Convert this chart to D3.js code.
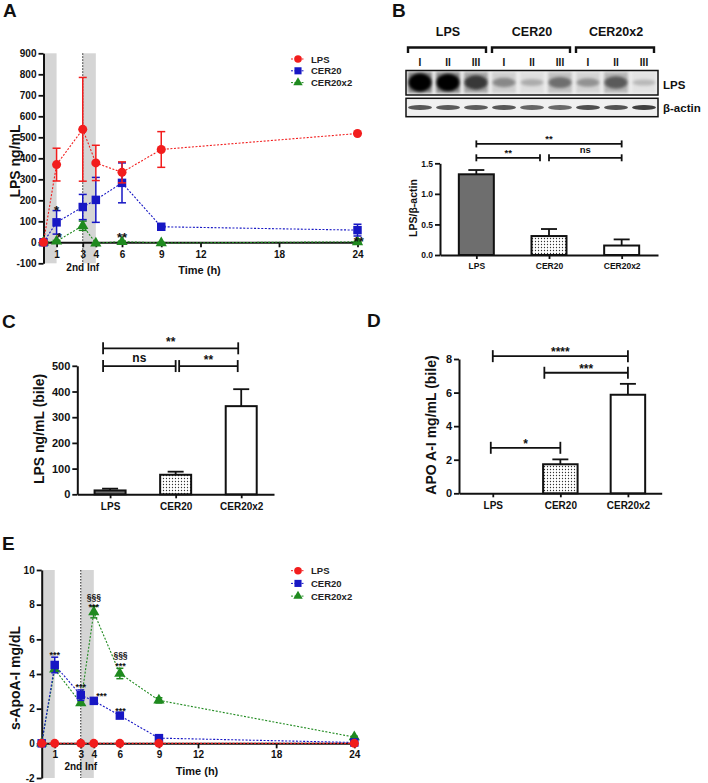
<!DOCTYPE html>
<html>
<head>
<meta charset="utf-8">
<script src="https://d3js.org/d3.v7.min.js"></script>
<style>
body { margin: 0; background: #fff; }
svg { display: block; }
</style>
</head>
<body>
<svg id="fig" width="708" height="783"></svg>
<script>
// ---- data ----
var hours = [0, 1, 3, 4, 6, 9, 24];
var timeTicks = [1, 3, 4, 6, 9, 12, 18, 24];
var groups = ["LPS", "CER20", "CER20x2"];

// A: plasma LPS ng/mL
var lpsA = [0, 370, 538, 378, 333, 442, 518];
var lpsAErr = [0, 78, 247, 84, 50, 85, 0];
var cer20A = [0, 95, 168, 202, 283, 74, 58];
var cer20AErr = [0, 56, 60, 107, 95, 5, 28];
var cer20x2A = [0, 5, 79, -4, 3, -3, 2];
var cer20x2AErr = [0, 4, 22, 2, 3, 2, 2];
var ticksA = [-100, 0, 100, 200, 300, 400, 500, 600, 700, 800, 900];

// E: s-ApoA-I mg/dL
var lpsE = [0, 0, 0, 0, 0, 0, 0];
var cer20E = [0, 4.52, 2.78, 2.45, 1.6, 0.3, 0.05];
var cer20EErr = [0, 0.45, 0.3, 0.1, 0.1, 0.05, 0.04];
var cer20x2E = [0, 4.27, 2.32, 7.57, 4.03, 2.48, 0.36];
var cer20x2EErr = [0, 0.1, 0.12, 0.33, 0.3, 0.15, 0.05];
var ticksE = [-2, 0, 2, 4, 6, 8, 10];

// B: western blot
var laneNames = ["I", "II", "III", "I", "II", "III", "I", "II", "III"];
var lpsBand = [1.0, 0.95, 0.72, 0.35, 0.18, 0.48, 0.3, 0.58, 0.12];
var actinBand = [0.62, 0.58, 0.58, 0.62, 0.5, 0.48, 0.68, 0.64, 0.78];
var ratioB = [1.32, 0.31, 0.155];
var ratioBErr = [0.07, 0.115, 0.1];
var ticksB = [0, 0.5, 1.0, 1.5];

// C: bile LPS ng/mL
var bileLps = [15, 76, 343];
var bileLpsErr = [7, 12, 66];
var ticksC = [0, 100, 200, 300, 400, 500];

// D: bile APO A-I mg/mL
var bileApo = [0, 1.73, 5.87];
var bileApoErr = [0, 0.29, 0.65];
var ticksD = [0, 2, 4, 6, 8];

// ---- drawing ----
var FONT = "'Liberation Sans', Arial, sans-serif";
var RED = "#f21d1d", BLUE = "#1717c4", GREEN = "#1f8a1f";
var barFill = ["#6e6e6e", "url(#dots)", "#ffffff"];

var svg = d3.select("#fig").style("font-family", FONT);
var defs = svg.append("defs");
var pat = defs.append("pattern").attr("id", "dots")
    .attr("width", 3).attr("height", 3).attr("patternUnits", "userSpaceOnUse");
pat.append("rect").attr("width", 3).attr("height", 3).attr("fill", "#fff");
pat.append("circle").attr("cx", 1.5).attr("cy", 1.5).attr("r", 0.65).attr("fill", "#333");
defs.append("filter").attr("id", "blur2").attr("x", "-50%").attr("y", "-50%").attr("width", "200%").attr("height", "200%")
    .append("feGaussianBlur").attr("stdDeviation", 1.6);
defs.append("filter").attr("id", "blur1").attr("x", "-50%").attr("y", "-50%").attr("width", "200%").attr("height", "200%")
    .append("feGaussianBlur").attr("stdDeviation", 0.7);

function styleAxis(a, fs) {
    a.attr("font-family", null).attr("font-size", null);
    a.select(".domain").attr("stroke", "#111").attr("stroke-width", 2);
    a.selectAll(".tick line").attr("stroke", "#111").attr("stroke-width", 1.8);
    a.selectAll(".tick text").attr("fill", "#111")
        .style("font-size", fs + "px").style("font-weight", "bold").style("font-family", FONT);
}

function label(g, x, y, txt, fs, anchor, rot) {
    var t = g.append("text").attr("x", x).attr("y", y).text(txt)
        .attr("font-size", fs).attr("font-weight", "bold").attr("fill", "#111")
        .attr("text-anchor", anchor || "middle");
    if (rot) t.attr("transform", "rotate(-90," + x + "," + y + ")");
    return t;
}

function timePanel(cfg) {
    var g = svg.append("g");
    var x = d3.scaleLinear().domain([0, 24]).range(cfg.xr);
    var y = d3.scaleLinear().domain(cfg.yd).range(cfg.yr);
    var top = y(cfg.yd[1]), bot = y(cfg.yd[0]);

    // infusion windows
    g.selectAll("rect.inf").data([[0, 1], [3, 4]]).join("rect")
        .attr("x", function (d) { return x(d[0]); })
        .attr("width", function (d) { return x(d[1]) - x(d[0]); })
        .attr("y", top).attr("height", bot - top).attr("fill", "#d5d5d5");
    g.append("line").attr("x1", x(3)).attr("x2", x(3)).attr("y1", top).attr("y2", bot)
        .attr("stroke", "#222").attr("stroke-width", 1).attr("stroke-dasharray", "1.5,1.5");

    var ya = g.append("g").attr("transform", "translate(" + x(0) + ",0)")
        .call(d3.axisLeft(y).tickValues(cfg.yTicks).tickSize(5).tickSizeOuter(0).tickPadding(2)
            .tickFormat(function (d) { return String(d); }));
    styleAxis(ya, 10);
    var xa = g.append("g").attr("transform", "translate(0," + y(0) + ")")
        .call(d3.axisBottom(x).tickValues(timeTicks).tickSize(5).tickSizeOuter(0).tickPadding(cfg.xPad));
    styleAxis(xa, 10);

    cfg.series.forEach(function (s) {
        var pts = hours.map(function (h, i) { return { h: h, v: s.vals[i], e: s.err ? s.err[i] : 0 }; });
        g.append("path").datum(pts).attr("fill", "none").attr("stroke", s.color)
            .attr("stroke-width", 1.1).attr("stroke-dasharray", "2,1.6")
            .attr("d", d3.line().x(function (d) { return x(d.h); }).y(function (d) { return y(d.v); }));
        var eb = g.append("g").attr("stroke", s.color).attr("stroke-width", 1.5);
        pts.filter(function (d) { return d.e > 0; }).forEach(function (d) {
            var cx = x(d.h), y1 = y(d.v + d.e), y2 = y(d.v - d.e), cw = cfg.cap;
            eb.append("line").attr("x1", cx).attr("x2", cx).attr("y1", y1).attr("y2", y2);
            eb.append("line").attr("x1", cx - cw).attr("x2", cx + cw).attr("y1", y1).attr("y2", y1);
            eb.append("line").attr("x1", cx - cw).attr("x2", cx + cw).attr("y1", y2).attr("y2", y2);
        });
        g.append("g").selectAll("path").data(pts).join("path")
            .attr("transform", function (d) { return "translate(" + x(d.h) + "," + y(d.v) + ")"; })
            .attr("d", d3.symbol(s.shape, s.size)).attr("fill", s.color);
    });

    // significance marks
    cfg.notes.forEach(function (n) {
        var star = n.s.indexOf("*") >= 0;
        label(g, x(n.t), y(n.v) + (star ? 0.57 : 0.32) * n.fs, n.s, n.fs);
    });

    // legend
    var lg = g.append("g");
    cfg.series.slice().reverse().forEach(function (s, i) {
        var ly = cfg.leg[1] + i * cfg.leg[2];
        lg.append("line").attr("x1", cfg.leg[0] - 7).attr("x2", cfg.leg[0] + 7).attr("y1", ly).attr("y2", ly)
            .attr("stroke", s.color).attr("stroke-width", 1).attr("stroke-dasharray", "2,1.5");
        lg.append("path").attr("transform", "translate(" + cfg.leg[0] + "," + ly + ")")
            .attr("d", d3.symbol(s.shape, s.size * 0.7)).attr("fill", s.color);
        lg.append("text").attr("x", cfg.leg[0] + 13).attr("y", ly + 3.5).text(s.name)
            .attr("font-size", 9.5).attr("font-weight", "bold").attr("fill", "#222");
    });

    label(g, x(3), y(0) + cfg.infDy, "2nd Inf", 10);
    label(g, x(12) - 1, y(0) + cfg.timeDy, "Time (h)", 11);
    label(g, 20, cfg.titleY, cfg.title, 14, "middle", true);
}

function barPanel(cfg) {
    var g = svg.append("g");
    var x = d3.scalePoint().domain(groups).range(cfg.xr).padding(0.5);
    var y = d3.scaleLinear().domain(cfg.yd).range(cfg.yr);

    var xa = g.append("g").attr("transform", "translate(0," + y(0) + ")")
        .call(d3.axisBottom(x).tickSize(4).tickSizeOuter(0).tickPadding(cfg.xPad));
    styleAxis(xa, cfg.fs);
    var ya = g.append("g").attr("transform", "translate(" + cfg.xr[0] + ",0)")
        .call(d3.axisLeft(y).tickValues(cfg.yTicks).tickSize(5).tickSizeOuter(0).tickPadding(2)
            .tickFormat(cfg.fmt));
    styleAxis(ya, cfg.yfs);

    var hw = cfg.bw / 2;
    groups.forEach(function (k, i) {
        var v = cfg.vals[i], e = cfg.err[i], cx = x(k);
        if (v <= 0) return;
        g.append("line").attr("x1", cx).attr("x2", cx).attr("y1", y(v)).attr("y2", y(v + e))
            .attr("stroke", "#111").attr("stroke-width", 1.8);
        g.append("line").attr("x1", cx - 8).attr("x2", cx + 8).attr("y1", y(v + e)).attr("y2", y(v + e))
            .attr("stroke", "#111").attr("stroke-width", 1.8);
        g.append("rect").attr("x", cx - hw).attr("width", cfg.bw)
            .attr("y", y(v)).attr("height", y(0) - y(v))
            .attr("fill", barFill[i]).attr("stroke", "#111").attr("stroke-width", 2);
    });

    cfg.sig.forEach(function (s) {
        var x1 = x(groups[s[0]]) + s[3], x2 = x(groups[s[1]]) + s[4], ly = y(s[2]);
        var sg = g.append("g").attr("stroke", "#111").attr("stroke-width", 1.8);
        sg.append("line").attr("x1", x1).attr("x2", x2).attr("y1", ly).attr("y2", ly);
        sg.append("line").attr("x1", x1).attr("x2", x1).attr("y1", ly - cfg.tk).attr("y2", ly + cfg.tk);
        sg.append("line").attr("x1", x2).attr("x2", x2).attr("y1", ly - cfg.tk).attr("y2", ly + cfg.tk);
        var star = s[5].indexOf("*") >= 0;
        label(g, (x1 + x2) / 2, ly - (star ? cfg.lift : cfg.lift + 2.5), s[5], cfg.sfs);
    });

    label(g, cfg.titleX, cfg.titleY, cfg.title, cfg.tfs, "middle", true);
}

// panel letters
label(svg, 3, 17, "A", 19, "start");
label(svg, 392, 17, "B", 19, "start");
label(svg, 2, 328, "C", 19, "start");
label(svg, 367, 327, "D", 19, "start");
label(svg, 2, 550, "E", 19, "start");

// A
timePanel({
    xr: [43.5, 357.5], yd: [-100, 900], yr: [263.3, 53.3], yTicks: ticksA, cap: 4, xPad: 4,
    series: [
        { name: "CER20x2", vals: cer20x2A, err: cer20x2AErr, color: GREEN, shape: d3.symbolTriangle, size: 55 },
        { name: "CER20", vals: cer20A, err: cer20AErr, color: BLUE, shape: d3.symbolSquare, size: 72 },
        { name: "LPS", vals: lpsA, err: lpsAErr, color: RED, shape: d3.symbolCircle, size: 64 }
    ],
    notes: [
        { t: 1, v: 165, s: "*", fs: 13 }, { t: 1.21, v: 38, s: "*", fs: 13 },
        { t: 6, v: 38, s: "**", fs: 13 }, { t: 24.1, v: 19, s: "**", fs: 13 }
    ],
    leg: [298, 59, 11.8], infDy: 28.5, timeDy: 32, titleY: 161, title: "LPS ng/mL"
});

// E
timePanel({
    xr: [41.7, 354.3], yd: [-2, 10], yr: [778, 570], yTicks: ticksE, cap: 3.5, xPad: 2.5,
    series: [
        { name: "CER20x2", vals: cer20x2E, err: cer20x2EErr, color: GREEN, shape: d3.symbolTriangle, size: 55 },
        { name: "CER20", vals: cer20E, err: cer20EErr, color: BLUE, shape: d3.symbolSquare, size: 72 },
        { name: "LPS", vals: lpsE, err: null, color: RED, shape: d3.symbolCircle, size: 64 }
    ],
    notes: [
        { t: 1, v: 5.24, s: "***", fs: 9 }, { t: 3, v: 3.36, s: "***", fs: 9 },
        { t: 4.6, v: 2.88, s: "***", fs: 9 }, { t: 6.05, v: 2.01, s: "***", fs: 9 },
        { t: 4, v: 8.45, s: "§§§", fs: 8.5 }, { t: 4, v: 7.96, s: "***", fs: 9 },
        { t: 6.05, v: 5.08, s: "§§§", fs: 8.5 }, { t: 6.05, v: 4.6, s: "***", fs: 9 }
    ],
    leg: [298, 570.7, 12.7], infDy: 26.5, timeDy: 31.5, titleY: 678, title: "s-ApoA-I mg/dL"
});

// B blot
var blot = svg.append("g");
var lane = d3.scaleBand().domain(d3.range(9)).range([406, 658]);
[0, 1, 2].forEach(function (k) {
    var x1 = lane(k * 3) + 2, x2 = lane(k * 3 + 2) + lane.bandwidth() - 4;
    blot.append("path").attr("d", "M" + x1 + ",53V47.5H" + x2 + "V53")
        .attr("fill", "none").attr("stroke", "#111").attr("stroke-width", 2.4);
    label(blot, lane(k * 3 + 1) + lane.bandwidth() / 2, 36, groups[k], 12.5);
});
laneNames.forEach(function (n, i) {
    label(blot, lane(i) + lane.bandwidth() / 2, 66, n, 10);
});
defs.append("clipPath").attr("id", "clipL").append("rect").attr("x", 406).attr("y", 70.5).attr("width", 252).attr("height", 24.5);
defs.append("clipPath").attr("id", "clipA").append("rect").attr("x", 406).attr("y", 98.3).attr("width", 252).attr("height", 18.4);
blot.append("rect").attr("x", 406).attr("y", 70.5).attr("width", 252).attr("height", 24.5).attr("fill", "#eeeeee");
blot.append("rect").attr("x", 406).attr("y", 98.3).attr("width", 252).attr("height", 18.4).attr("fill", "#f0f0f0");
var bandL = blot.append("g").attr("clip-path", "url(#clipL)");
lpsBand.forEach(function (k, i) {
    var cx = lane(i) + lane.bandwidth() / 2;
    bandL.append("rect").attr("x", cx - 12).attr("width", 24).attr("y", 72).attr("height", 21)
        .attr("fill", d3.interpolateGreys(0.15 + 0.5 * k)).attr("filter", "url(#blur2)").attr("opacity", 0.8);
    bandL.append("ellipse").attr("cx", cx).attr("cy", 82.5).attr("rx", 11.5).attr("ry", 2.2 + 7 * k)
        .attr("fill", d3.interpolateGreys(0.3 + 0.72 * k)).attr("filter", "url(#blur2)");
});
var bandA = blot.append("g").attr("clip-path", "url(#clipA)");
actinBand.forEach(function (k, i) {
    var cx = lane(i) + lane.bandwidth() / 2;
    bandA.append("ellipse").attr("cx", cx).attr("cy", 107.5).attr("rx", 12).attr("ry", 2.6)
        .attr("fill", d3.interpolateGreys(0.5 + 0.5 * k)).attr("filter", "url(#blur1)").attr("opacity", 0.85);
});
blot.append("rect").attr("x", 406).attr("y", 70.5).attr("width", 252).attr("height", 24.5)
    .attr("fill", "none").attr("stroke", "#111").attr("stroke-width", 1.5);
blot.append("rect").attr("x", 406).attr("y", 98.3).attr("width", 252).attr("height", 18.4)
    .attr("fill", "none").attr("stroke", "#111").attr("stroke-width", 1.5);
label(blot, 663, 89, "LPS", 11.5, "start");
label(blot, 663, 112, "β-actin", 11.5, "start");

// B bars
barPanel({
    xr: [440, 658], yd: [0, 1.5], yr: [255, 163.3], yTicks: ticksB, bw: 35,
    fmt: function (d) { return d.toFixed(1); }, fs: 8.5, yfs: 8.5, xPad: 4,
    vals: ratioB, err: ratioBErr, tk: 3.5, lift: 2, sfs: 9.5,
    sig: [[0, 2, 1.817, 0, 0, "**"], [0, 1, 1.59, 0, -9, "**"], [1, 2, 1.59, 0, 0, "ns"]],
    titleX: 417, titleY: 208, title: "LPS/β-actin", tfs: 10.5
});

// C
barPanel({
    xr: [77.3, 274], yd: [0, 500], yr: [494.3, 365.8], yTicks: ticksC, bw: 31,
    fmt: function (d) { return String(d); }, fs: 10, yfs: 11, xPad: 5,
    vals: bileLps, err: bileLpsErr, tk: 6, lift: 2, sfs: 12,
    sig: [[0, 2, 568, -7, -3, "**"], [0, 1, 499, -7, 0, "ns"], [1, 2, 499, 3.5, -3.5, "**"]],
    titleX: 44, titleY: 429, title: "LPS ng/mL (bile)", tfs: 14
});

// D
barPanel({
    xr: [459, 661.7], yd: [0, 8], yr: [493.3, 359], yTicks: ticksD, bw: 34.5,
    fmt: function (d) { return String(d); }, fs: 10, yfs: 11, xPad: 5,
    vals: bileApo, err: bileApoErr, tk: 6, lift: 0, sfs: 12,
    sig: [[0, 2, 8.17, 0, 0, "****"], [1, 2, 7.18, -16, 0, "***"], [0, 1, 2.71, -2, 0, "*"]],
    titleX: 436, titleY: 425, title: "APO A-I mg/mL (bile)", tfs: 14
});
</script>
</body>
</html>
